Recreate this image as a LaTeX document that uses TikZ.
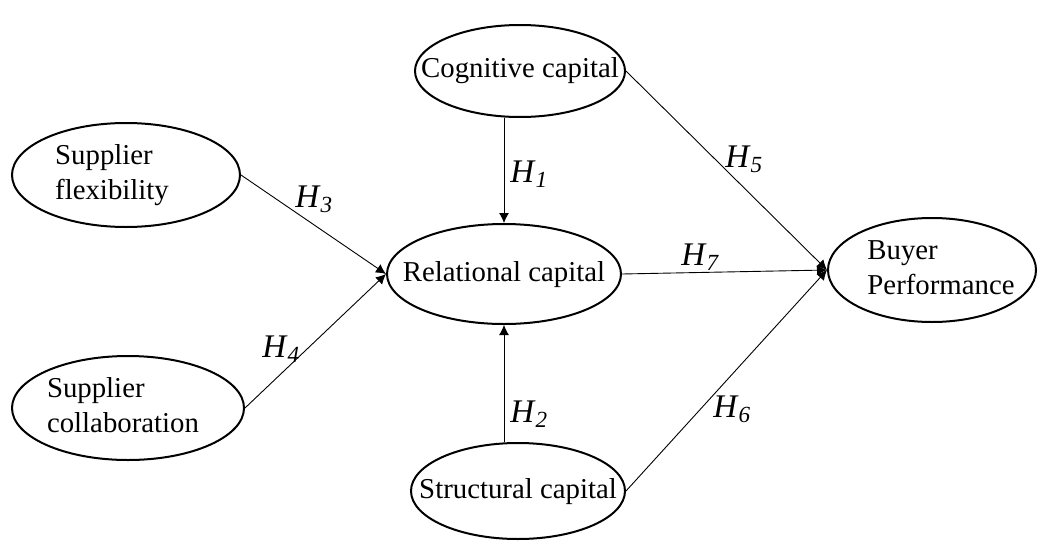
\documentclass[tikz,border=0pt]{standalone}
\usepackage{fontspec}
\setmainfont{Liberation Serif}
\usetikzlibrary{shapes, arrows.meta, positioning}
\tikzstyle{construct}=[draw,ellipse,line width=1pt,inner sep=0pt,font=\fontsize{14.4}{17.5}\selectfont]
\tikzstyle{hyp}=[inner sep=0pt,anchor=base west,font=\fontsize{16.5}{18}\selectfont]
\tikzstyle{link}=[->,line width=0.45pt]
\newcommand{\hyp}[1]{\textit{H}\textsubscript{\textit{#1}}}
\newcommand{\ctext}[2][0pt]{\makebox[0pt]{\hspace*{#1}\begin{tabular}{@{}l@{}}#2\end{tabular}}}
\newcommand{\ctwo}[2][0pt]{\raisebox{-2.5pt}{\ctext[#1]{#2}}}

\begin{document}
\begin{tikzpicture}[x=0.5pt,y=-0.5pt,>={Latex[length=5pt,width=5pt]}]
            \useasboundingbox (0,0) rectangle (1049,546);
            \node[construct, minimum width=105pt, minimum height=46pt] (cog) at (520,71) {\ctext{Cognitive capital}};
            \node[construct, minimum width=114pt, minimum height=52pt] (flex) at (126,175) {\ctwo[-14pt]{Supplier\\flexibility}};
            \node[construct, minimum width=116pt, minimum height=52pt] (coll) at (128,408) {\ctwo[-5pt]{Supplier\\collaboration}};
            \node[construct, minimum width=117pt, minimum height=50pt] (rel) at (504,274) {\ctext{Relational capital}};
            \node[construct, minimum width=107pt, minimum height=48pt] (str) at (518,491) {\ctext{Structural capital}};
            \node[construct, minimum width=104pt, minimum height=52pt] (buy) at (932,270) {\ctwo[9pt]{Buyer\\Performance}};
            \draw[link] (rel.north |- cog.south) -- (rel.north);
            \draw[link] (rel.south |- str.north) -- (rel.south);
            \draw[link] (flex.east) -- (rel.west);
            \draw[link] (coll.east) -- (rel.west);
            \draw[link] (rel.east) -- (buy.west);
            \draw[link] (cog.east) -- (buy.west);
            \draw[link] (str.east) -- (buy.west);
            \node[hyp] (h1) at (510,182) {\hyp{1}};
            \node[hyp] (h2) at (510,422) {\hyp{2}};
            \node[hyp] (h3) at (295,207) {\hyp{3}};
            \node[hyp] (h4) at (262,357) {\hyp{4}};
            \node[hyp] (h5) at (725,167) {\hyp{5}};
            \node[hyp] (h6) at (713,417) {\hyp{6}};
            \node[hyp] (h7) at (681,265) {\hyp{7}};
        \end{tikzpicture}
\end{document}
